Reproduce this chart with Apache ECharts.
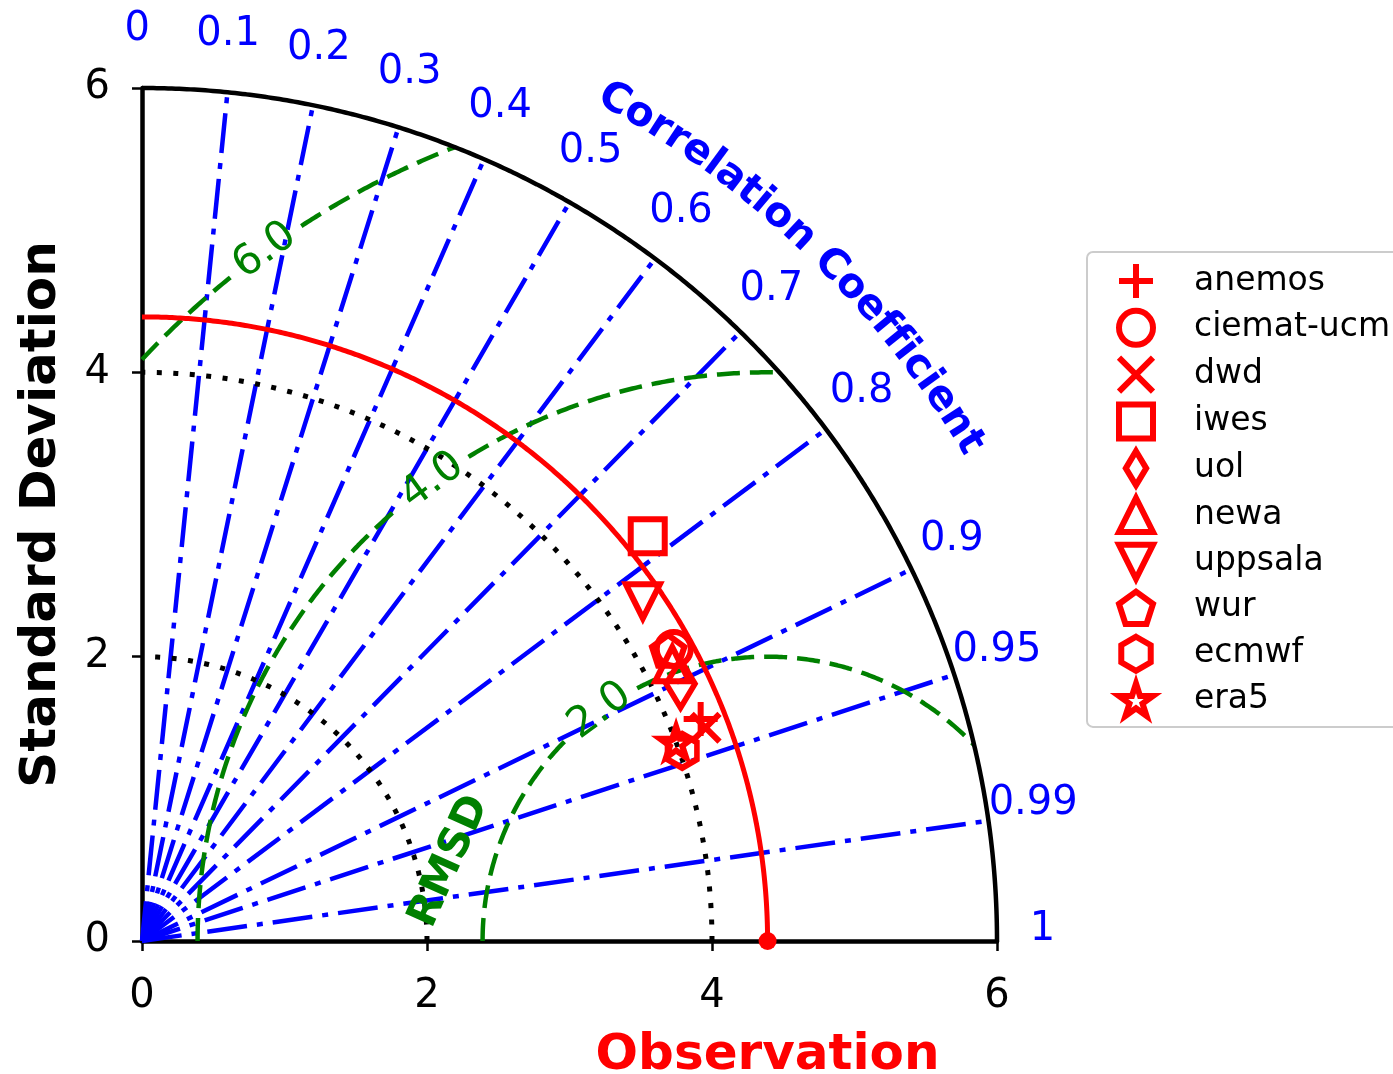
<!DOCTYPE html>
<html><head><meta charset="utf-8">
<script src="https://cdn.jsdelivr.net/npm/echarts@6/dist/echarts.min.js"></script>
<style>html,body{margin:0;padding:0;background:#fff}#c{width:1393px;height:1074px}</style>
</head><body><div id="c"></div>
<script>
// ---------------- data ----------------
const models   = ['anemos','ciemat-ucm','dwd','iwes','uol','newa','uppsala','wur','ecmwf','era5'];
const stdDev   = [4.22, 4.26, 4.23, 4.55, 4.19, 4.20, 4.25, 4.22, 4.02, 4.00];
const corrCoef = [0.929, 0.876, 0.935, 0.780, 0.902, 0.886, 0.827, 0.875, 0.943, 0.937];
const refStd = 4.39;
const refName = 'Observation';
const corrTicks = [0, 0.1, 0.2, 0.3, 0.4, 0.5, 0.6, 0.7, 0.8, 0.9, 0.95, 0.99, 1];
const corrTickLabels = ['0','0.1','0.2','0.3','0.4','0.5','0.6','0.7','0.8','0.9','0.95','0.99','1'];
const stdTicks = [0, 2, 4, 6];
const stdGridCircles = [2, 4];
const rmsdLevels = [2, 4, 6];
const rmsdLabels = ['2.0', '4.0', '6.0'];
const axisMax = 6;

// ---------------- styles ----------------
const FONT = 'DejaVu Sans';
const RED = '#ff0000', BLUE = '#0000ff', GREEN = '#008000';
const MS = 34;
const PX_PER_UNIT = 142.5;
const RMSD_LABEL_PHI = 126;
const markerStyle = {
  'anemos':     {symbol:'path://M0,-1L0,1M-1,0L1,0', size:[MS,MS]},
  'ciemat-ucm': {symbol:'circle', size:MS},
  'dwd':        {symbol:'path://M-1,-1L1,1M-1,1L1,-1', size:[MS*0.82,MS*0.82]},
  'iwes':       {symbol:'path://M-1,-1L1,-1L1,1L-1,1Z', size:MS},
  'uol':        {symbol:'path://M0,-1L0.6,0L0,1L-0.6,0Z', size:[MS*0.849, MS*1.414]},
  'newa':       {symbol:'path://M0,-1L1,1L-1,1Z', size:MS},
  'uppsala':    {symbol:'path://M-1,-1L1,-1L0,1Z', size:MS},
  'wur':        {symbol:'path://M0,-1L0.951,-0.309L0.588,0.809L-0.588,0.809L-0.951,-0.309Z', size:[MS*0.951, MS*0.905]},
  'ecmwf':      {symbol:'path://M0,-1L0.866,-0.5L0.866,0.5L0,1L-0.866,0.5L-0.866,-0.5Z', size:[MS*0.866, MS]},
  'era5':       {symbol:'path://M0,-1L0.2245,-0.309L0.951,-0.309L0.363,0.118L0.588,0.809L0,0.382L-0.588,0.809L-0.363,0.118L-0.951,-0.309L-0.2245,-0.309Z', size:[MS*0.951, MS*0.905]}
};

const DEG = Math.PI / 180;
function polar(r, deg) { return [r * Math.cos(deg * DEG), r * Math.sin(deg * DEG)]; }
function arc(r, a0, a1, n) {
  const pts = [];
  for (let i = 0; i <= n; i++) pts.push(polar(r, a0 + (a1 - a0) * i / n));
  return pts;
}
function rmsdArc(R, gapPx) {
  const phiMax = R <= refStd ? 180 : Math.acos(-refStd / R) / DEG;
  const c = (axisMax * axisMax - refStd * refStd - R * R) / (2 * refStd * R);
  const phiMin = c >= 1 ? 0 : Math.acos(Math.max(-1, c)) / DEG;
  const halfGap = (gapPx / 2) / (R * PX_PER_UNIT) / DEG;
  const pts = [], n = 300;
  let broke = false;
  for (let i = 0; i <= n; i++) {
    const p = phiMax + (phiMin - phiMax) * i / n;
    if (Math.abs(p - RMSD_LABEL_PHI) < halfGap) {
      if (!broke) { pts.push(['-', '-']); broke = true; }
      continue;
    }
    pts.push([refStd + R * Math.cos(p * DEG), R * Math.sin(p * DEG)]);
  }
  return pts;
}

const series = [];
// correlation rays
corrTicks.filter(c => c > 0 && c < 1).forEach(c => {
  series.push({type:'line', silent:true, clip:false, symbol:'none', z:2,
    data:[[0,0], polar(axisMax, Math.acos(c) / DEG)],
    lineStyle:{color:BLUE, width:4.5, type:[40,10,6,10], cap:'butt'}});
});
// std dotted circles
stdGridCircles.forEach(r => {
  series.push({type:'line', silent:true, clip:false, symbol:'none', z:3,
    data: arc(r, 0, 90, 180),
    lineStyle:{color:'#000', width:5, type:[5,11.5], cap:'butt'}});
});
// RMSD contours
rmsdLevels.forEach(R => {
  series.push({type:'line', silent:true, clip:false, symbol:'none', z:3, connectNulls:false,
    data: rmsdArc(R, 86),
    lineStyle:{color:GREEN, width:4.5, type:[23,10], cap:'butt'}});
});
// outer arc
series.push({type:'line', silent:true, clip:false, symbol:'none', z:4,
  data: arc(axisMax, 0, 90, 360), lineStyle:{color:'#000', width:4.5}});
// reference arc
series.push({type:'line', silent:true, clip:false, symbol:'none', z:5,
  data: arc(refStd, 0, 90, 360), lineStyle:{color:RED, width:5}});

const labelItem = {color:'transparent', opacity:1};

// correlation tick labels
series.push({type:'scatter', silent:true, clip:false, z:6, symbol:'circle', symbolSize:1,
  itemStyle:labelItem,
  data: corrTicks.map((c, i) => {
    const th = Math.acos(c) / DEG;
    const off = 0.7 - 0.4 * th / 90;
    const r = 6.32 + 0.09 * th / 90;
    return {name: corrTickLabels[i], value: polar(r, th + off)};
  }),
  label:{show:true, position:'inside', formatter:'{b}', color:BLUE, fontSize:40, fontFamily:FONT}});

// "Correlation Coefficient" curved title
(function(){
  const txt = 'Correlation Coefficient';
  const fs = 41;
  const cv = document.createElement('canvas').getContext('2d');
  cv.font = 'bold ' + fs + 'px "' + FONT + '"';
  const w = [...txt].map(ch => cv.measureText(ch).width);
  const rPx = 6.78 * PX_PER_UNIT;
  let cum = 0;
  const data = [];
  [...txt].forEach((ch, i) => {
    const s = cum + w[i] / 2 - w[0] / 2;
    cum += w[i];
    const ang = 60.75 - (s / rPx) / DEG;
    if (ch !== ' ') data.push({name: ch, value: polar(6.78, ang), label:{rotate: ang - 90}});
  });
  series.push({type:'scatter', silent:true, clip:false, z:6, symbol:'circle', symbolSize:1,
    itemStyle:labelItem, data,
    label:{show:true, position:'inside', formatter:'{b}', color:BLUE, fontSize:fs, fontWeight:'bold', fontFamily:FONT}});
})();

// RMSD contour labels
series.push({type:'scatter', silent:true, clip:false, z:6, symbol:'circle', symbolSize:1,
  itemStyle:labelItem,
  data: rmsdLevels.map((R, i) => ({name: rmsdLabels[i],
    value:[refStd + R * Math.cos(RMSD_LABEL_PHI * DEG), R * Math.sin(RMSD_LABEL_PHI * DEG)],
    label:{rotate: RMSD_LABEL_PHI - 90}})),
  label:{show:true, position:'inside', formatter:'{b}', color:GREEN, fontSize:42, fontFamily:FONT}});
// RMSD title
series.push({type:'scatter', silent:true, clip:false, z:6, symbol:'circle', symbolSize:1,
  itemStyle:labelItem,
  data:[{name:'RMSD', value:[2.16, 0.56], label:{rotate:66}}],
  label:{show:true, position:'inside', formatter:'{b}', color:GREEN, fontSize:42, fontWeight:'bold', fontFamily:FONT}});

// model markers
models.forEach((m, i) => {
  const st = markerStyle[m];
  const ang = Math.acos(corrCoef[i]) / DEG;
  series.push({type:'scatter', name:m, silent:true, clip:false, z:8,
    symbol: st.symbol, symbolSize: st.size, symbolKeepAspect:false,
    itemStyle:{color:'transparent', borderColor:RED, borderWidth:6, opacity:1},
    data:[polar(stdDev[i], ang)]});
});
// reference point
series.push({type:'scatter', silent:true, clip:false, z:9, symbol:'circle', symbolSize:18,
  itemStyle:{color:RED, opacity:1},
  data:[{name:refName, value:[refStd, 0]}],
  label:{show:true, position:'bottom', distance:81, formatter:'{b}', color:RED, fontSize:50, fontWeight:'bold', fontFamily:FONT, lineHeight:50}});

const axisCommon = {
  type:'value', min:0, max:axisMax, interval:2,
  axisLine:{show:true, onZero:false, lineStyle:{color:'#000', width:4.5}},
  axisTick:{show:true, length:10, lineStyle:{color:'#000', width:2.5}},
  axisLabel:{fontSize:40, color:'#000', margin:34, fontFamily:FONT},
  splitLine:{show:false}
};

const option = {
  animation:false,
  backgroundColor:'#fff',
  grid:{left:142, right:396, top:88, bottom:133, containLabel:false},
  xAxis: Object.assign({}, axisCommon, {axisLabel:Object.assign({}, axisCommon.axisLabel, {margin:36})}),
  yAxis: Object.assign({}, axisCommon, {
    axisLabel:Object.assign({}, axisCommon.axisLabel, {margin:32}),
    name:'Standard Deviation', nameLocation:'middle', nameGap:75, nameRotate:90,
    nameTextStyle:{fontSize:50, fontWeight:'bold', color:'#000', fontFamily:FONT}
  }),
  legend:{
    show:true, orient:'vertical', left:1087, top:252,
    data: models, selectedMode:false,
    itemWidth:34, itemHeight:34, itemGap:6.8,
    padding:[9, 40, 8, 29],
    backgroundColor:'#fff', borderColor:'#cccccc', borderWidth:2, borderRadius:6,
    itemStyle:{borderWidth:6},
    textStyle:{fontSize:33, color:'#000', fontFamily:FONT, lineHeight:34, padding:[0,0,0,36]}
  },
  series
};
const chart = echarts.init(document.getElementById('c'));
chart.setOption(option);
</script></body></html>
